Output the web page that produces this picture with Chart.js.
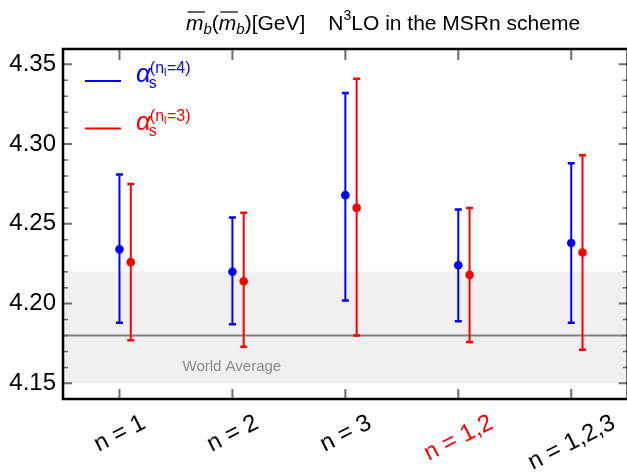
<!DOCTYPE html>
<html>
<head>
<meta charset="utf-8">
<script src="https://cdn.jsdelivr.net/npm/chart.js@4.4.0/dist/chart.umd.min.js"></script>
<style>
  html, body { margin: 0; padding: 0; background: #fff; overflow: hidden; }
  #wrap { position: relative; width: 632px; height: 476px; }
</style>
</head>
<body>
<div id="wrap"><canvas id="chart" width="632" height="476"></canvas></div>
<script>
const categories = ['n = 1', 'n = 2', 'n = 3', 'n = 1,2', 'n = 1,2,3'];
const labelColors = ['#000000', '#000000', '#000000', '#ff0000', '#000000'];

// alpha_s with nl = 4 (blue)
const centralNl4 = [4.234, 4.220, 4.268, 4.224, 4.238];
const upperNl4 = [4.281, 4.254, 4.332, 4.259, 4.288];
const lowerNl4 = [4.188, 4.187, 4.202, 4.189, 4.188];

// alpha_s with nl = 3 (red)
const centralNl3 = [4.226, 4.214, 4.260, 4.218, 4.232];
const upperNl3 = [4.275, 4.257, 4.341, 4.260, 4.293];
const lowerNl3 = [4.177, 4.173, 4.180, 4.176, 4.171];

const worldAverage = 4.18;
const worldBand = [4.15, 4.22];
const yTicks = [4.15, 4.20, 4.25, 4.30, 4.35];

const BLUE = '#0000ff';
const RED = '#ff0000';
const FONT = '"Liberation Sans", Arial, sans-serif';
const RED_SHIFT = 0.1;

function points(values, shift) {
    return values.map((v, i) => ({x: i + 1 + shift, y: v}));
}

const errorBars = {
    id: 'errorBars',
    beforeDatasetsDraw(chart) {
        const {ctx, chartArea, scales: {x, y}} = chart;
        ctx.save();
        // world average band and line
        ctx.fillStyle = '#f0f0f0';
        const bt = y.getPixelForValue(worldBand[1]);
        const bb = y.getPixelForValue(worldBand[0]);
        ctx.fillRect(chartArea.left, bt, chartArea.right - chartArea.left, bb - bt);
        ctx.strokeStyle = '#808080';
        ctx.lineWidth = 2;
        const wy = y.getPixelForValue(worldAverage);
        ctx.beginPath();
        ctx.moveTo(chartArea.left, wy);
        ctx.lineTo(chartArea.right, wy);
        ctx.stroke();
        ctx.fillStyle = '#8a8a8a';
        ctx.font = '15px ' + FONT;
        ctx.textAlign = 'center';
        ctx.textBaseline = 'alphabetic';
        ctx.fillText('World Average', x.getPixelForValue(1.995), y.getPixelForValue(4.1575));

        const sets = [
            {lo: lowerNl4, hi: upperNl4, color: BLUE, shift: 0},
            {lo: lowerNl3, hi: upperNl3, color: RED, shift: RED_SHIFT}
        ];
        sets.forEach(s => {
            ctx.strokeStyle = s.color;
            s.lo.forEach((lo, i) => {
                const px = x.getPixelForValue(i + 1 + s.shift);
                const p1 = y.getPixelForValue(lo);
                const p2 = y.getPixelForValue(s.hi[i]);
                ctx.lineWidth = 2;
                ctx.beginPath();
                ctx.moveTo(px, p1);
                ctx.lineTo(px, p2);
                ctx.stroke();
                ctx.lineWidth = 2.5;
                ctx.beginPath();
                ctx.moveTo(px - 3.5, p1);
                ctx.lineTo(px + 3.5, p1);
                ctx.moveTo(px - 3.5, p2);
                ctx.lineTo(px + 3.5, p2);
                ctx.stroke();
            });
        });
        ctx.restore();
    }
};

function drawAlphaLabel(ctx, x, base, nl, color) {
    ctx.fillStyle = color;
    ctx.textAlign = 'left';
    ctx.textBaseline = 'alphabetic';
    ctx.font = 'italic 26px ' + FONT;
    ctx.fillText('\u03b1', x, base);
    const ax = x + ctx.measureText('\u03b1').width;
    ctx.font = '16px ' + FONT;
    ctx.fillText('s', ax - 2, base + 6);
    let sx = ax - 1;
    ctx.fillText('(n', sx, base - 9);
    sx += ctx.measureText('(n').width;
    ctx.font = '11px ' + FONT;
    ctx.fillText('l', sx, base - 6);
    sx += ctx.measureText('l').width + 0.5;
    ctx.font = '16px ' + FONT;
    ctx.fillText('=' + nl + ')', sx, base - 9);
}

function drawMbar(ctx, x, base) {
    ctx.font = 'italic 21px ' + FONT;
    const w = ctx.measureText('m').width;
    ctx.fillText('m', x, base);
    ctx.lineWidth = 1.2;
    ctx.beginPath();
    ctx.moveTo(x + 1.5, base - 18);
    ctx.lineTo(x + w + 1.5, base - 18);
    ctx.stroke();
    x += w;
    ctx.font = 'italic 15px ' + FONT;
    ctx.fillText('b', x, base + 4);
    return x + ctx.measureText('b').width;
}

const frameAndText = {
    id: 'frameAndText',
    afterDraw(chart) {
        const {ctx, chartArea: a, scales: {x, y}} = chart;
        ctx.save();

        // ticks on all four sides, pointing inward
        ctx.strokeStyle = '#6e6e6e';
        for (let k = 0; k <= 21; k++) {
            const v = 4.14 + k * 0.01;
            const py = y.getPixelForValue(v);
            if (py < a.top + 2 || py > a.bottom - 2) continue;
            const major = k % 5 === 1;
            const len = major ? 9 : 5;
            ctx.lineWidth = major ? 2 : 1.5;
            ctx.beginPath();
            ctx.moveTo(a.left, py);
            ctx.lineTo(a.left + len, py);
            ctx.moveTo(a.right, py);
            ctx.lineTo(a.right - len, py);
            ctx.stroke();
        }
        ctx.lineWidth = 2;
        categories.forEach((c, i) => {
            const px = x.getPixelForValue(i + 1);
            ctx.beginPath();
            ctx.moveTo(px, a.bottom);
            ctx.lineTo(px, a.bottom - 10);
            ctx.moveTo(px, a.top);
            ctx.lineTo(px, a.top + 11);
            ctx.stroke();
        });

        // frame
        ctx.strokeStyle = '#000';
        ctx.lineWidth = 2.5;
        ctx.beginPath();
        ctx.moveTo(a.left, a.top);
        ctx.lineTo(a.right, a.top);
        ctx.lineTo(a.right, a.bottom);
        ctx.lineTo(a.left, a.bottom);
        ctx.closePath();
        ctx.stroke();

        // rotated category labels
        const theta = 27 * Math.PI / 180;
        ctx.font = '24px ' + FONT;
        categories.forEach((c, i) => {
            const w = ctx.measureText(c).width;
            const h = 17;
            const boxH = w * Math.sin(theta) + h * Math.cos(theta);
            const cx = x.getPixelForValue(i + 1);
            const cy = a.bottom + 14 + boxH / 2;
            ctx.save();
            ctx.translate(cx, cy);
            ctx.rotate(-theta);
            ctx.fillStyle = labelColors[i];
            ctx.textAlign = 'center';
            ctx.textBaseline = 'middle';
            ctx.fillText(c, 0, 1);
            ctx.restore();
        });

        // legend
        const legend = [
            {color: BLUE, nl: 4, y: 81},
            {color: RED, nl: 3, y: 128.5}
        ];
        legend.forEach(l => {
            ctx.strokeStyle = l.color;
            ctx.lineWidth = 2;
            ctx.beginPath();
            ctx.moveTo(85, l.y);
            ctx.lineTo(121, l.y);
            ctx.stroke();
            drawAlphaLabel(ctx, 136, l.y + 1, l.nl, l.color);
        });

        // title
        ctx.fillStyle = '#000';
        ctx.strokeStyle = '#000';
        ctx.textAlign = 'left';
        ctx.textBaseline = 'alphabetic';
        const base = 30;
        let tx = 186;
        tx = drawMbar(ctx, tx, base);
        ctx.font = '21px ' + FONT;
        ctx.fillText('(', tx, base);
        tx += ctx.measureText('(').width;
        tx = drawMbar(ctx, tx, base);
        ctx.font = '21px ' + FONT;
        ctx.fillText(')[GeV]', tx, base);
        tx += ctx.measureText(')[GeV]').width + 23;
        ctx.fillText('N', tx, base);
        tx += ctx.measureText('N').width;
        ctx.font = '14px ' + FONT;
        ctx.fillText('3', tx, base - 10);
        tx += ctx.measureText('3').width;
        ctx.font = '21px ' + FONT;
        ctx.fillText('LO in the MSRn scheme', tx, base);

        ctx.restore();
    }
};

new Chart(document.getElementById('chart'), {
    type: 'scatter',
    data: {
        datasets: [
            {
                label: 'nl=4',
                data: points(centralNl4, 0),
                backgroundColor: BLUE,
                borderColor: BLUE,
                pointRadius: 4.3,
                pointBorderWidth: 0
            },
            {
                label: 'nl=3',
                data: points(centralNl3, RED_SHIFT),
                backgroundColor: RED,
                borderColor: RED,
                pointRadius: 4.3,
                pointBorderWidth: 0
            }
        ]
    },
    options: {
        responsive: false,
        animation: false,
        layout: {padding: {top: 49, right: 3, bottom: 0, left: 0}},
        plugins: {
            legend: {display: false},
            tooltip: {enabled: false}
        },
        scales: {
            x: {
                type: 'linear',
                min: 0.5,
                max: 5.5,
                grid: {display: false, drawTicks: false},
                border: {display: false},
                ticks: {display: false},
                afterFit: s => { s.height = 77; }
            },
            y: {
                min: 4.1402,
                max: 4.3596,
                grid: {display: false, drawTicks: false},
                border: {display: false},
                ticks: {
                    color: '#000',
                    padding: 7,
                    font: {size: 24, family: FONT},
                    callback: v => v.toFixed(2)
                },
                afterBuildTicks: s => { s.ticks = yTicks.map(v => ({value: v})); },
                afterFit: s => { s.width = 63; }
            }
        }
    },
    plugins: [errorBars, frameAndText]
});
</script>
</body>
</html>
